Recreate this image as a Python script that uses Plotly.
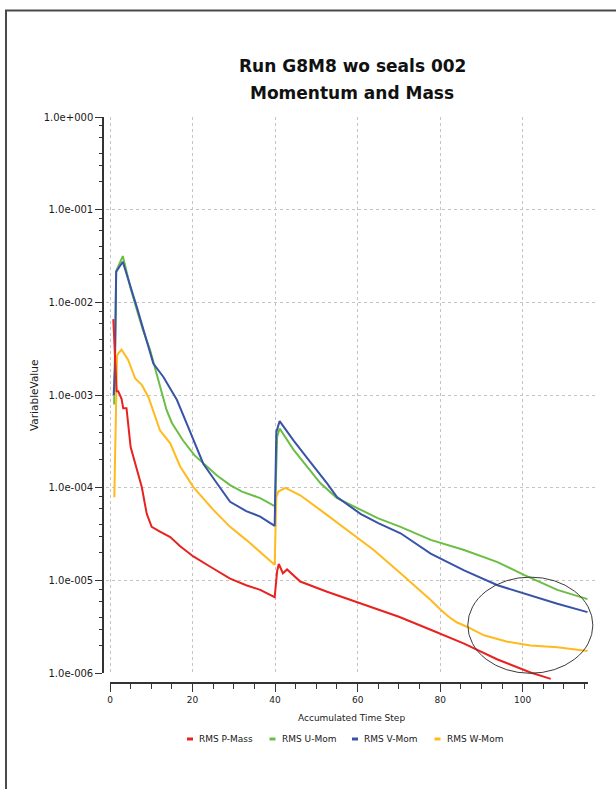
import math
import plotly.graph_objects as go

# ---------------- data ----------------
title_lines = ["Run G8M8 wo seals 002", "Momentum and Mass"]
x_title = "Accumulated Time Step"
y_title = "VariableValue"
series_names = ["RMS P-Mass", "RMS U-Mom", "RMS V-Mom", "RMS W-Mom"]
series_colors = ["#E8221E", "#6BBE45", "#3853A8", "#FFBA1E"]

x_tick_vals = [0, 20, 40, 60, 80, 100]
y_tick_vals = [1e0, 1e-1, 1e-2, 1e-3, 1e-4, 1e-5, 1e-6]
y_tick_text = ["1.0e+000", "1.0e-001", "1.0e-002", "1.0e-003",
               "1.0e-004", "1.0e-005", "1.0e-006"]

p_mass_x = [0.8, 1.0, 1.2, 1.6, 2.0, 2.8, 3.2, 4.0, 5.0, 6.5, 7.7, 8.9, 10.1, 12.0,
            14.6, 17.0, 20.2, 24.3, 29.1, 33.0, 36.4, 39.9, 40.5, 40.9, 41.9, 42.9,
            46.1, 52.6, 58.3, 62.0, 70.0, 77.7, 85.8, 93.9, 101.9, 106.8]
p_mass_y = [6.61e-3, 3.98e-3, 1.91e-3, 1.10e-3, 1.10e-3, 9.12e-4, 7.24e-4, 7.24e-4,
            2.75e-4, 1.58e-4, 1.02e-4, 5.25e-5, 3.80e-5, 3.39e-5, 2.95e-5, 2.34e-5,
            1.82e-5, 1.41e-5, 1.05e-5, 8.91e-6, 7.94e-6, 6.61e-6, 1.26e-5, 1.51e-5,
            1.20e-5, 1.32e-5, 9.77e-6, 7.59e-6, 6.17e-6, 5.50e-6, 4.07e-6, 2.95e-6,
            2.09e-6, 1.41e-6, 1.02e-6, 8.7e-7]

u_mom_x = [1.0, 1.5, 3.1, 5.0, 6.5, 8.0, 9.7, 11.3, 13.7, 15.0, 17.7, 20.5, 23.4,
           26.0, 29.1, 32.0, 36.4, 40.0, 40.5, 41.1, 44.5, 48.0, 51.0, 55.0, 60.7,
           65.0, 70.4, 77.7, 85.8, 93.9, 100.3, 108.4, 115.7]
u_mom_y = [7.94e-4, 2.19e-2, 3.16e-2, 1.41e-2, 8.32e-3, 5.01e-3, 3.09e-3, 1.66e-3,
           6.92e-4, 5.01e-4, 3.24e-4, 2.24e-4, 1.70e-4, 1.35e-4, 1.07e-4, 9.12e-5,
           7.76e-5, 6.31e-5, 3.55e-4, 4.37e-4, 2.57e-4, 1.62e-4, 1.12e-4, 7.76e-5,
           5.75e-5, 4.68e-5, 3.80e-5, 2.75e-5, 2.14e-5, 1.58e-5, 1.15e-5, 7.94e-6,
           6.31e-6]

v_mom_x = [0.9, 1.2, 1.5, 3.1, 6.5, 8.5, 10.5, 12.9, 16.2, 19.0, 22.6, 25.9, 29.1,
           33.0, 36.4, 39.9, 40.3, 41.1, 44.5, 48.5, 52.6, 55.0, 60.7, 65.0, 70.4,
           77.7, 85.8, 93.9, 100.3, 108.4, 115.7]
v_mom_y = [1.0e-3, 2.0e-3, 2.14e-2, 2.75e-2, 8.91e-3, 4.47e-3, 2.19e-3, 1.58e-3,
           8.91e-4, 4.47e-4, 1.82e-4, 1.12e-4, 7.08e-5, 5.62e-5, 4.90e-5, 3.89e-5,
           3.98e-4, 5.25e-4, 3.24e-4, 1.91e-4, 1.12e-4, 7.94e-5, 5.25e-5, 4.17e-5,
           3.24e-5, 1.95e-5, 1.29e-5, 8.91e-6, 7.24e-6, 5.62e-6, 4.57e-6]

w_mom_x = [1.05, 1.2, 1.4, 1.7, 2.0, 2.8, 4.4, 6.1, 7.7, 9.3, 12.1, 14.6, 17.0, 20.2,
           25.1, 29.1, 33.0, 36.4, 39.9, 40.3, 40.8, 42.5, 46.1, 51.0, 57.5, 63.9,
           70.4, 74.0, 77.7, 80.0, 82.0, 84.0, 86.6, 90.6, 96.3, 101.9, 108.4, 115.7]
w_mom_y = [7.94e-5, 2.0e-4, 1.0e-3, 2.63e-3, 2.82e-3, 3.09e-3, 2.40e-3, 1.51e-3,
           1.29e-3, 9.55e-4, 4.17e-4, 3.02e-4, 1.70e-4, 1.02e-4, 5.75e-5, 3.80e-5,
           2.75e-5, 2.04e-5, 1.48e-5, 7.94e-5, 9.12e-5, 1.0e-4, 8.32e-5, 5.75e-5,
           3.47e-5, 2.14e-5, 1.20e-5, 8.7e-6, 6.17e-6, 4.9e-6, 4.1e-6, 3.55e-6,
           3.16e-6, 2.57e-6, 2.19e-6, 2.0e-6, 1.91e-6, 1.74e-6]

# highlighted region (ellipse) in data units
ellipse_x = [86.7, 117.0]
ellipse_y = [1.09e-5, 1.0e-6]

# ---------------- layout geometry (pixels) ----------------
W, H = 616, 789
ML, MR, MT, MB = 103, 19, 117, 106
PW, PH = W - ML - MR, H - MT - MB


def fx(px):
    return (px - ML) / PW


def fy(py):
    return (H - MB - py) / PH


X0_PX, X_SCALE = 110.0, 4.127          # pixel of x=0, pixels per unit
Y_TOP_PX, Y_BOT_PX = 117.0, 673.3      # pixels of 1e0 and 1e-6
DEC_PX = (Y_BOT_PX - Y_TOP_PX) / 6.0
GRID_L, GRID_R = 106.0, 597.0
X_END = 115.8


def px2x(px):
    return (px - X0_PX) / X_SCALE


grid_xrange = [px2x(GRID_L), px2x(GRID_R)]
data_ybottom = -(H - MB - Y_TOP_PX) / DEC_PX

FONT = "DejaVu Sans"
INK = "#1a1a1a"
AXC = "#333333"
GRIDC = "#c4c4c4"
CLEAR = "rgba(0,0,0,0)"

fig = go.Figure()

# dummy traces to create the grid subplot and the display x-axis subplot
fig.add_trace(go.Scatter(x=[None], y=[None], xaxis="x", yaxis="y",
                         showlegend=False, hoverinfo="skip"))
fig.add_trace(go.Scatter(x=[None], y=[None], xaxis="x3", yaxis="y2",
                         showlegend=False, hoverinfo="skip"))

series = [
    (u_mom_x, u_mom_y, 1),
    (w_mom_x, w_mom_y, 3),
    (v_mom_x, v_mom_y, 2),
    (p_mass_x, p_mass_y, 0),
]
for xs, ys, idx in series:
    fig.add_trace(go.Scatter(
        x=xs, y=ys, mode="lines", name=series_names[idx],
        line=dict(color=series_colors[idx], width=2),
        xaxis="x2", yaxis="y2", showlegend=False,
    ))

minor_y = [k * 10.0 ** e for e in range(-6, 0) for k in (2, 3, 4, 6, 8)]

fig.update_layout(
    width=W, height=H,
    margin=dict(l=ML, r=MR, t=MT, b=MB, pad=0, autoexpand=False),
    paper_bgcolor="white", plot_bgcolor=CLEAR,
    showlegend=False,
    font=dict(family=FONT, color=INK, size=10),
    # grid axes
    xaxis=dict(domain=[fx(GRID_L), 1], range=grid_xrange, anchor="y",
               showgrid=True, gridcolor=GRIDC, griddash="dot", gridwidth=1,
               tickvals=x_tick_vals, showticklabels=False, ticks="",
               showline=False, zeroline=False, fixedrange=True),
    yaxis=dict(domain=[fy(Y_BOT_PX), 1], range=[-6, 0], type="log",
               anchor="free", position=0,
               showgrid=True, gridcolor=GRIDC, griddash="dot", gridwidth=1,
               tickvals=y_tick_vals, ticktext=y_tick_text,
               ticks="outside", ticklen=7, tickwidth=1.2, tickcolor=AXC,
               showline=True, linecolor=AXC, linewidth=1.5,
               tickfont=dict(family=FONT, size=10, color=INK),
               minor=dict(tickvals=minor_y, ticks="outside", ticklen=3,
                          tickwidth=1.2, tickcolor=AXC, showgrid=False),
               zeroline=False, fixedrange=True),
    # data axes
    xaxis2=dict(domain=[fx(GRID_L), 1], range=grid_xrange, anchor="y2",
                visible=False, fixedrange=True),
    yaxis2=dict(domain=[0, 1], range=[data_ybottom, 0], type="log", anchor="x2",
                visible=False, fixedrange=True),
    # display x-axis
    xaxis3=dict(domain=[fx(X0_PX), fx(X0_PX + X_END * X_SCALE)], range=[0, X_END],
                anchor="free", position=0,
                showgrid=False, zeroline=False,
                tickvals=x_tick_vals, ticks="outside", ticklen=8, tickwidth=1.2,
                tickcolor=AXC, showline=True, linecolor=AXC, linewidth=1.5,
                tickfont=dict(family=FONT, size=9, color=INK),
                minor=dict(dtick=5, tick0=0, ticks="outside", ticklen=5,
                           tickwidth=1.2, tickcolor=AXC, showgrid=False),
                fixedrange=True),
)

annotations = [
    dict(text="<b>%s</b>" % title_lines[0], x=fx(352), y=fy(66), xref="paper", yref="paper",
         xanchor="center", yanchor="middle", showarrow=False,
         font=dict(family=FONT, size=17, color="#111111")),
    dict(text="<b>%s</b>" % title_lines[1], x=fx(352), y=fy(93), xref="paper", yref="paper",
         xanchor="center", yanchor="middle", showarrow=False,
         font=dict(family=FONT, size=17, color="#111111")),
    dict(text=x_title, x=fx(351), y=fy(718), xref="paper", yref="paper",
         xanchor="center", yanchor="middle", showarrow=False,
         font=dict(family=FONT, size=9, color=INK)),
    dict(text=y_title, x=fx(34), y=fy(396), xref="paper", yref="paper",
         xanchor="center", yanchor="middle", showarrow=False, textangle=-90,
         font=dict(family=FONT, size=10.5, color=INK)),
]

shapes = []
# manual legend (swatch + text)
for i, (name, color) in enumerate(zip(series_names, series_colors)):
    sx = 187 + 82.5 * i
    shapes.append(dict(type="line", xref="paper", yref="paper",
                       x0=fx(sx), x1=fx(sx + 6), y0=fy(739), y1=fy(739),
                       line=dict(color=color, width=3)))
    annotations.append(dict(text=name, x=fx(sx + 10), y=fy(739), xref="paper",
                            yref="paper", xanchor="left", yanchor="middle",
                            showarrow=False, font=dict(family=FONT, size=9, color=INK)))


def ypaper_from_value(v):
    L = math.log10(v)
    return fy(Y_TOP_PX - L * DEC_PX)


# ellipse highlighting the tail
shapes.append(dict(type="circle", xref="x2", yref="paper",
                   x0=ellipse_x[0], x1=ellipse_x[1],
                   y0=ypaper_from_value(ellipse_y[1]), y1=ypaper_from_value(ellipse_y[0]),
                   line=dict(color="#3a3a3a", width=1)))

# outer frame
shapes.append(dict(type="rect", xref="paper", yref="paper",
                   x0=fx(6), x1=fx(640), y0=fy(10.5), y1=fy(820),
                   line=dict(color="#4a4a4a", width=2)))

fig.update_layout(annotations=annotations, shapes=shapes)

fig.write_html("out.html", config={"displayModeBar": False},
               post_script="document.body.style.margin='0px';document.body.style.padding='0px';")
